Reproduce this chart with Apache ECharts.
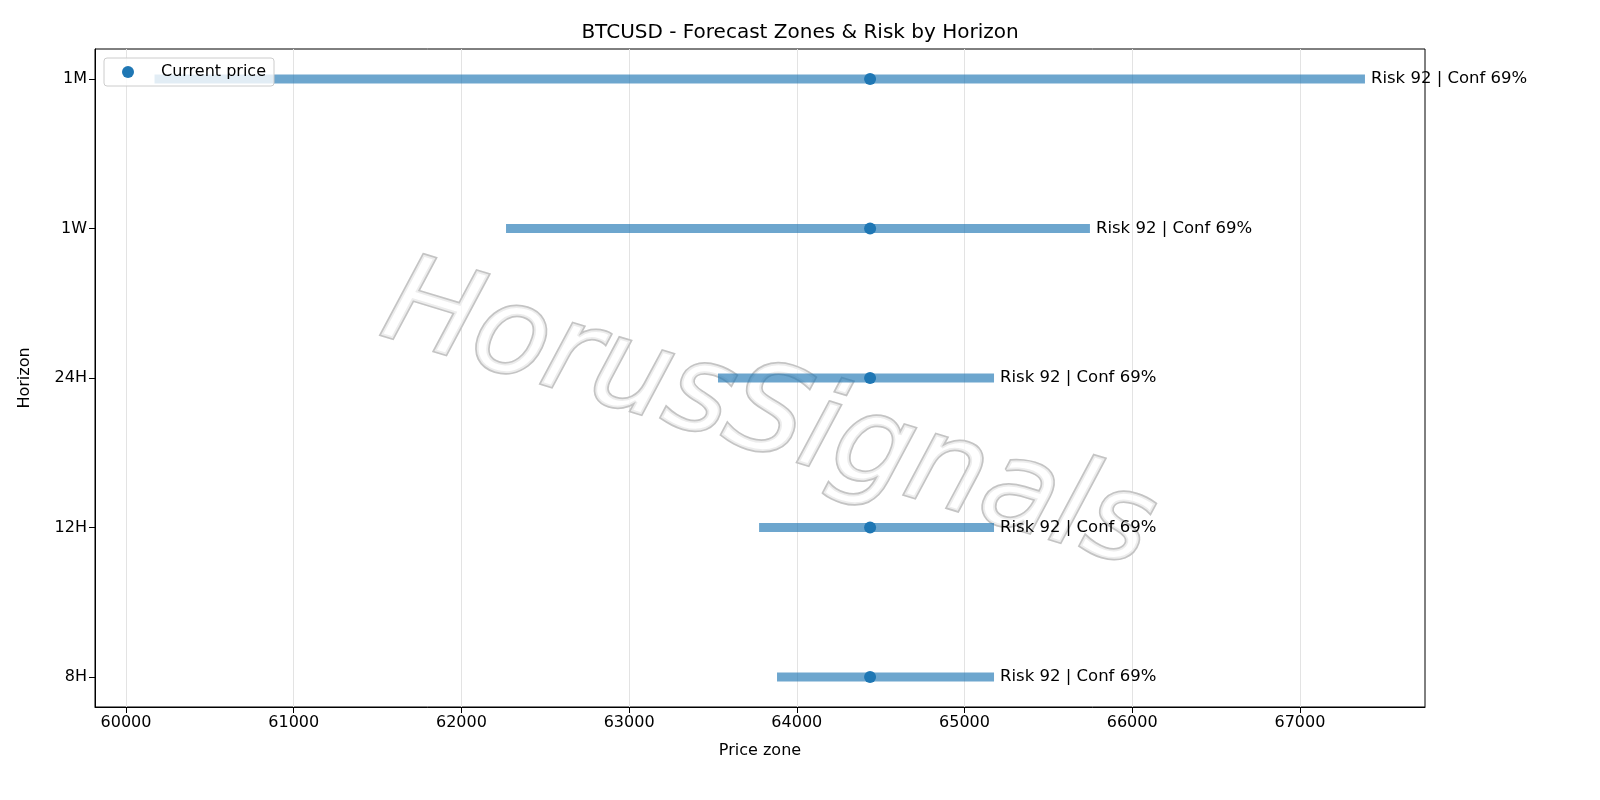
<!DOCTYPE html>
<html><head><meta charset="utf-8">
<script src="https://cdn.jsdelivr.net/npm/echarts@6/dist/echarts.min.js"></script>
<style>html,body{margin:0;background:#fff}#c{width:1600px;height:800px}</style>
</head><body><div id="c"></div>
<script>
const horizons = ['8H','12H','24H','1W','1M'];
const zoneLow = [63882, 63775, 63530, 62266, 60170];
const zoneHigh = [65176, 65176, 65176, 65748, 67388];
const currentPrice = [64437, 64437, 64437, 64437, 64437];
const riskLabels = ['Risk 92 | Conf 69%','Risk 92 | Conf 69%','Risk 92 | Conf 69%','Risk 92 | Conf 69%','Risk 92 | Conf 69%'];
const xTicks = [60000,61000,62000,63000,64000,65000,66000,67000];

const font = 'DejaVu Sans';
const chart = echarts.init(document.getElementById('c'));
chart.setOption({
  animation:false,
  textStyle:{fontFamily:font},
  title:{text:'BTCUSD - Forecast Zones & Risk by Horizon',left:'center',top:18,textStyle:{fontFamily:font,fontSize:20,fontWeight:'normal',color:'#000'}},
  grid:{left:95,right:175,top:49,bottom:93,show:true,borderColor:'#000',borderWidth:1},
  xAxis:{type:'value',min:59815,max:67746,interval:1000,
    name:'Price zone',nameLocation:'middle',nameGap:36,nameTextStyle:{fontSize:16,color:'#000'},
    axisLine:{show:true,onZero:false,lineStyle:{color:'#000'}},
    axisLabel:{color:'#000',fontSize:16,customValues:xTicks,formatter:v=>String(v)},
    axisTick:{show:true,customValues:xTicks,length:6,lineStyle:{color:'#000'}},
    splitLine:{show:true,lineStyle:{color:'#e3e3e3'}}},
  yAxis:{type:'value',min:-0.2,max:4.2,
    name:'Horizon',nameLocation:'middle',nameGap:62,nameTextStyle:{fontSize:16,color:'#000'},
    axisLine:{show:true,onZero:false,lineStyle:{color:'#000'}},
    axisTick:{show:true,customValues:[0,1,2,3,4],length:6,lineStyle:{color:'#000'}},
    axisLabel:{color:'#000',fontSize:16,customValues:[0,1,2,3,4],formatter:v=>horizons[Math.round(v)]},
    splitLine:{show:false}},
  legend:{data:[{name:'Current price',icon:'circle'}],left:104,top:58,padding:[6,8,6,18],itemWidth:12,itemHeight:12,
    borderColor:'#ccc',borderWidth:1,borderRadius:3,backgroundColor:'rgba(255,255,255,0.8)',
    textStyle:{fontSize:16,color:'#000',padding:[0,0,0,22]}},
  graphic:[
    {type:'text',x:405,y:245,rotation:-17*Math.PI/180,z:1,silent:true,
     style:{text:'HorusSignals',font:'italic 122px "DejaVu Sans"',fill:'rgba(255,255,255,0.7)',stroke:'#c4c4c4',lineWidth:3.5,
       shadowColor:'rgba(0,0,0,0.25)',shadowOffsetX:5,shadowOffsetY:7,shadowBlur:3}}
  ],
  series:[
    {type:'custom',name:'zones',z:3,
     data:horizons.map((h,i)=>[zoneLow[i],zoneHigh[i],i]),
     renderItem:(p,api)=>{
       const a=api.coord([api.value(0),api.value(2)]), b=api.coord([api.value(1),api.value(2)]);
       return {type:'group',children:[
         {type:'rect',shape:{x:a[0],y:a[1]-4.5,width:b[0]-a[0],height:9},style:{fill:'rgba(31,119,180,0.65)'}},
         {type:'text',x:b[0]+6,y:b[1],style:{text:riskLabels[p.dataIndex],font:'16.5px "DejaVu Sans"',fill:'#000',verticalAlign:'middle'}}
       ]};
     }},
    {type:'scatter',name:'Current price',z:4,symbolSize:12,itemStyle:{color:'#1f77b4',opacity:1},
     data:currentPrice.map((v,i)=>[v,i])}
  ]
});
</script></body></html>
